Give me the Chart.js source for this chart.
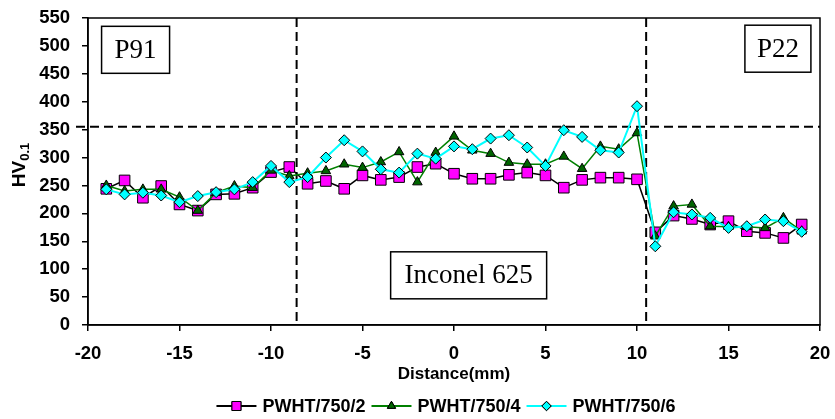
<!DOCTYPE html>
<html>
<head>
<meta charset="utf-8">
<script src="https://cdn.jsdelivr.net/npm/chart.js@4"></script>
<style>
  html, body { margin: 0; padding: 0; background: #fff; }
</style>
</head>
<body>
<canvas id="chartCanvas" width="835" height="419"></canvas>
<script>
// distance from the weld centre (mm)
const distance = [-19, -18, -17, -16, -15, -14, -13, -12, -11, -10, -9, -8, -7, -6, -5, -4, -3, -2, -1,
  0, 1, 2, 3, 4, 5, 6, 7, 8, 9, 10, 11, 12, 13, 14, 15, 16, 17, 18, 19];

const pwht2 = [244, 259, 228, 249, 216, 205, 234, 235, 246, 274, 283, 253, 258, 244, 268, 260, 265, 283, 289,
  271, 262, 262, 269, 273, 268, 246, 260, 264, 264, 261, 166, 196, 190, 180, 186, 168, 165, 156, 180];
const pwht4 = [250, 240, 243, 243, 229, 205, 237, 249, 246, 277, 267, 272, 276, 288, 282, 292, 310, 256, 309,
  338, 313, 307, 291, 288, 288, 302, 280, 320, 315, 344, 159, 213, 216, 177, 176, 176, 174, 192, 168];
const pwht6 = [243, 234, 237, 232, 220, 231, 238, 243, 256, 285, 256, 265, 300, 331, 311, 279, 273, 307, 298,
  320, 315, 334, 340, 318, 285, 349, 337, 313, 309, 392, 141, 202, 198, 192, 174, 177, 189, 186, 167];

const seriesNames = ["PWHT/750/2", "PWHT/750/4", "PWHT/750/6"];
const zoneLines = [-8.6, 10.5];   // fusion lines
const limitLine = 355;           // horizontal dashed line
const zoneLabels = [
  { text: "P91", x: -17.4, y: 493, w: 68 },
  { text: "P22", x: 17.7, y: 495, w: 66 },
  { text: "Inconel 625", x: 0.8, y: 89, w: 156 }
];

const styles = [
  { line: "#000000", fill: "#ff00ff", point: "rect", radius: 7.5 },
  { line: "#008000", fill: "#006400", point: "triangle", radius: 5.5 },
  { line: "#00ffff", fill: "#00ffff", point: "rectRot", radius: 5.5 }
];

function toPoints(values) {
  return values.map((v, i) => ({ x: distance[i], y: v }));
}

function segment(ctx, x1, y1, x2, y2) {
  ctx.beginPath();
  ctx.moveTo(x1, y1);
  ctx.lineTo(x2, y2);
  ctx.stroke();
}

function drawMarker(ctx, style, x, y) {
  Chart.helpers.drawPoint(ctx, { pointStyle: style.point, radius: style.radius, borderWidth: 1 }, x, y);
  ctx.fill();
  ctx.stroke();
}

const overlay = {
  id: "overlay",
  beforeDatasetsDraw(chart) {
    const { ctx, chartArea: a, scales } = chart;
    ctx.save();
    ctx.strokeStyle = "#000";
    ctx.lineWidth = 2;
    ctx.setLineDash([9, 5]);
    zoneLines.forEach((v) => {
      const px = scales.x.getPixelForValue(v);
      segment(ctx, px, a.top, px, a.bottom);
    });
    const py = scales.y.getPixelForValue(limitLine);
    segment(ctx, a.left - 12, py, a.right, py);
    ctx.restore();
  },
  afterDraw(chart) {
    const { ctx, chartArea: a, scales } = chart;
    ctx.save();

    // plot frame
    ctx.strokeStyle = "#000";
    ctx.lineWidth = 1.5;
    ctx.strokeRect(a.left, a.top, a.right - a.left, a.bottom - a.top);

    // zone label boxes
    ctx.font = "27px 'Liberation Serif', 'Times New Roman', serif";
    ctx.textAlign = "center";
    ctx.textBaseline = "middle";
    zoneLabels.forEach((z) => {
      const cx = scales.x.getPixelForValue(z.x);
      const cy = scales.y.getPixelForValue(z.y);
      ctx.fillStyle = "#fff";
      ctx.fillRect(cx - z.w / 2, cy - 23.5, z.w, 47);
      ctx.lineWidth = 1.5;
      ctx.strokeRect(cx - z.w / 2, cy - 23.5, z.w, 47);
      ctx.fillStyle = "#000";
      ctx.fillText(z.text, cx, cy + 1);
    });

    // y axis title HV0.1
    ctx.save();
    ctx.translate(20, 165);
    ctx.rotate(-Math.PI / 2);
    ctx.font = "bold 19px 'Liberation Sans', Arial";
    ctx.textAlign = "left";
    ctx.textBaseline = "middle";
    const w1 = ctx.measureText("HV").width;
    ctx.font = "bold 13px 'Liberation Sans', Arial";
    const w2 = ctx.measureText("0.1").width;
    const start = -(w1 + w2) / 2;
    ctx.font = "bold 19px 'Liberation Sans', Arial";
    ctx.fillText("HV", start, 0);
    ctx.font = "bold 13px 'Liberation Sans', Arial";
    ctx.fillText("0.1", start + w1, 5);
    ctx.restore();

    // x axis title
    ctx.font = "bold 17px 'Liberation Sans', Arial";
    ctx.textAlign = "center";
    ctx.textBaseline = "middle";
    ctx.fillText("Distance(mm)", (a.left + a.right) / 2, 374);

    // legend
    ctx.font = "bold 18px 'Liberation Sans', Arial";
    ctx.textAlign = "left";
    const lineLen = 40, gap = 6, itemGap = 6;
    const widths = seriesNames.map((n) => ctx.measureText(n).width);
    const total = widths.reduce((s, w) => s + lineLen + gap + w, 0) + itemGap * (seriesNames.length - 1);
    let lx = 446 - total / 2;
    const ly = 406;
    seriesNames.forEach((n, i) => {
      const st = styles[i];
      ctx.strokeStyle = st.line;
      ctx.lineWidth = 2;
      segment(ctx, lx, ly, lx + lineLen, ly);
      ctx.fillStyle = st.fill;
      ctx.strokeStyle = "#000";
      ctx.lineWidth = 1;
      drawMarker(ctx, { point: st.point, radius: st.radius * 0.85 }, lx + lineLen / 2, ly);
      ctx.fillStyle = "#000";
      ctx.fillText(n, lx + lineLen + gap, ly + 1);
      lx += lineLen + gap + widths[i] + itemGap;
    });
    ctx.restore();
  }
};

Chart.defaults.font.family = "'Liberation Sans', Arial, sans-serif";
Chart.defaults.font.weight = "bold";
Chart.defaults.font.size = 18.5;
Chart.defaults.color = "#000";

const allSeries = [pwht2, pwht4, pwht6];
const datasets = allSeries.map((vals, i) => ({
  label: seriesNames[i],
  data: toPoints(vals),
  borderColor: styles[i].line,
  borderWidth: i === 2 ? 2 : 1.5,
  backgroundColor: styles[i].fill,
  pointStyle: styles[i].point,
  pointRadius: styles[i].radius,
  pointBackgroundColor: styles[i].fill,
  pointBorderColor: "#000",
  pointBorderWidth: 1,
  tension: 0,
  order: 2 - i
}));

new Chart(document.getElementById("chartCanvas").getContext("2d"), {
  type: "line",
  data: { datasets: datasets },
  options: {
    responsive: false,
    devicePixelRatio: 1,
    animation: false,
    layout: { padding: { top: 18, right: 15, left: 0, bottom: 0 } },
    plugins: {
      legend: { display: false },
      tooltip: { enabled: false }
    },
    scales: {
      x: {
        type: "linear",
        min: -20,
        max: 20,
        ticks: { stepSize: 5, padding: 12, maxRotation: 0 },
        grid: { display: true, drawOnChartArea: false, drawTicks: true, tickLength: 6, color: "#000", lineWidth: 1.5 },
        border: { display: true, color: "#000", width: 1.5 },
        afterFit: (scale) => {
          scale.height = 94;
          scale.paddingLeft = 0;
          scale.paddingRight = 0;
        }
      },
      y: {
        min: 0,
        max: 550,
        ticks: { stepSize: 50, padding: 12 },
        grid: { display: true, drawOnChartArea: false, drawTicks: true, tickLength: 6, color: "#000", lineWidth: 1.5 },
        border: { display: true, color: "#000", width: 1.5 },
        afterFit: (scale) => {
          scale.width = 88;
          scale.paddingTop = 0;
          scale.paddingBottom = 0;
        }
      }
    }
  },
  plugins: [overlay]
});
</script>
</body>
</html>
